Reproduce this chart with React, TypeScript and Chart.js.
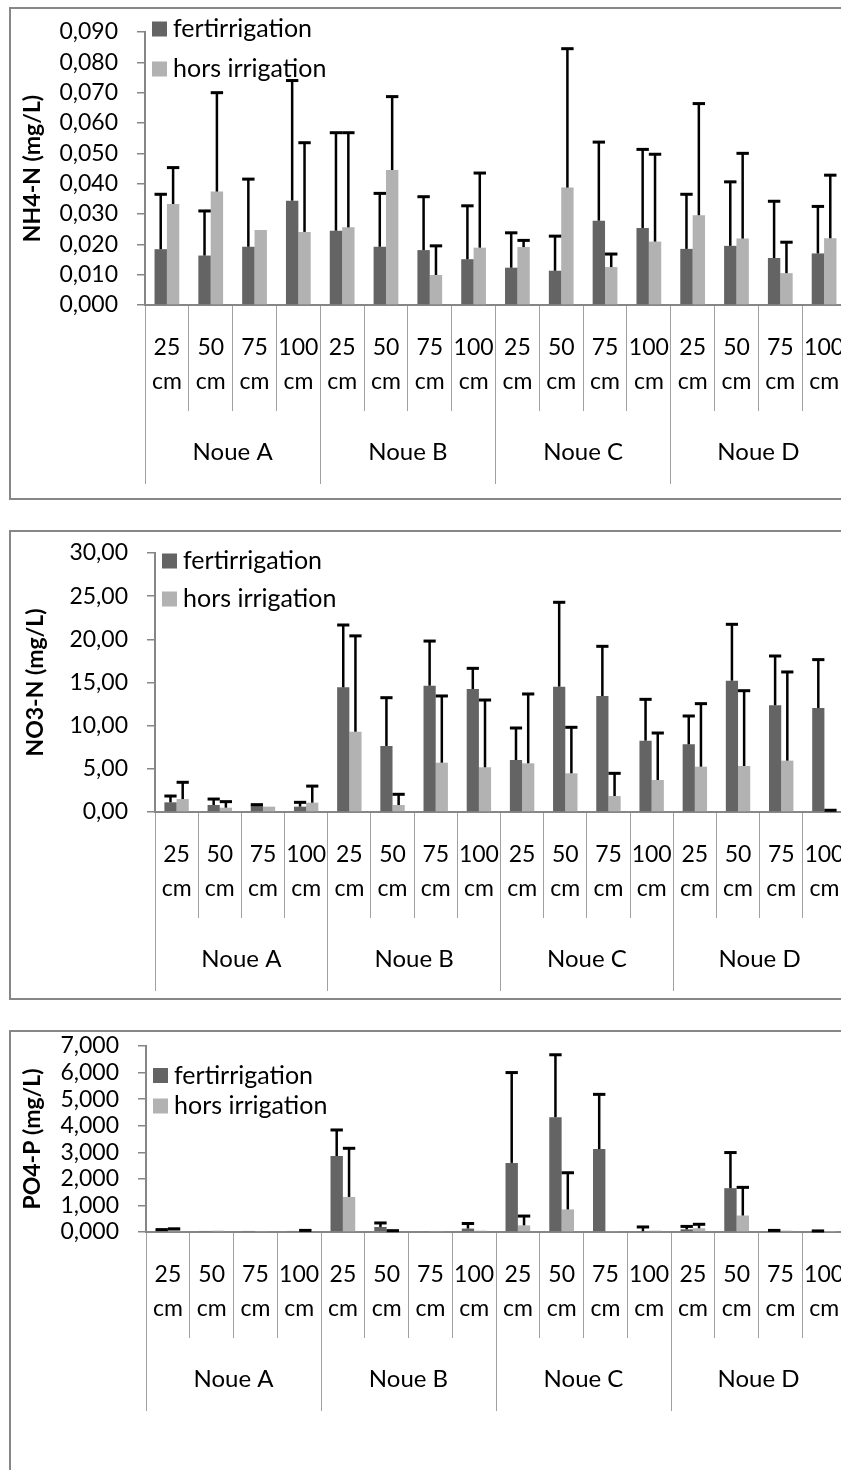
import React, { useEffect, useRef } from 'react';
import { Chart, registerables } from 'chart.js';

Chart.register(...registerables);
Chart.defaults.font.family = "Lato, 'Open Sans', sans-serif";
Chart.defaults.color = '#000';

// ---------- data ----------
const groups = ['Noue A', 'Noue B', 'Noue C', 'Noue D'];
const depths = ['25', '50', '75', '100'];
const categoryLabels = groups.flatMap(() => depths.map((d) => [d, 'cm']));
const seriesNames = ['fertirrigation', 'hors irrigation'];
const seriesColors = ['#646464', '#b2b2b2'];

const nh4Fert = [0.0184, 0.0163, 0.0192, 0.0344, 0.0245, 0.0192, 0.0181, 0.0151, 0.0123, 0.0113, 0.0278, 0.0254, 0.0185, 0.0195, 0.0155, 0.017];
const nh4FertSd = [0.0181, 0.0147, 0.0223, 0.0396, 0.0323, 0.0176, 0.0176, 0.0176, 0.0115, 0.0114, 0.0259, 0.0259, 0.018, 0.0211, 0.0187, 0.0155];
const nh4Hors = [0.0333, 0.0374, 0.0247, 0.0241, 0.0256, 0.0445, 0.0099, 0.0189, 0.0191, 0.0387, 0.0125, 0.0209, 0.0296, 0.0219, 0.0105, 0.022];
const nh4HorsSd = [0.012, 0.0326, 0, 0.0294, 0.0312, 0.0242, 0.0096, 0.0246, 0.0022, 0.0458, 0.0043, 0.0288, 0.0368, 0.0281, 0.0102, 0.0208];

const no3Fert = [1.12, 0.81, 0.77, 0.62, 14.44, 7.65, 14.63, 14.25, 6.02, 14.52, 13.44, 8.26, 7.84, 15.21, 12.36, 12.05];
const no3FertSd = [0.73, 0.69, 0.08, 0.5, 7.22, 5.59, 5.17, 2.39, 3.71, 9.77, 5.75, 4.79, 3.28, 6.53, 5.71, 5.6];
const no3Hors = [1.5, 0.5, 0.62, 1.08, 9.3, 0.81, 5.71, 5.18, 5.64, 4.48, 1.85, 3.71, 5.25, 5.33, 5.95, 0.1];
const no3HorsSd = [1.94, 0.7, 0, 1.92, 11.1, 1.24, 7.73, 7.79, 8.03, 5.33, 2.63, 5.44, 7.3, 8.72, 10.27, 0.1];

const po4Fert = [0.06, 0.04, 0.04, 0.04, 2.86, 0.19, 0.03, 0.13, 2.6, 4.32, 3.12, 0.03, 0.1, 1.65, 0.05, 0.03];
const po4FertSd = [0.03, 0, 0, 0, 0.98, 0.15, 0, 0.19, 3.4, 2.35, 2.06, 0.16, 0.11, 1.34, 0.01, 0.01];
const po4Hors = [0.1, 0.05, 0.02, 0.05, 1.32, 0.04, 0.04, 0.05, 0.25, 0.85, 0.02, 0.05, 0.14, 0.62, 0.05, 0.01];
const po4HorsSd = [0.02, 0, 0, 0.01, 1.83, 0.01, 0, 0, 0.35, 1.38, 0, 0, 0.15, 1.06, 0, 0];

const yTitles = ['NH4-N (mg/L)', 'NO3-N (mg/L)', 'PO4-P (mg/L)'];

// ---------- plugins ----------
const errorBarPlugin = {
  id: 'errorBars',
  afterDatasetsDraw(chart: any) {
    const ctx = chart.ctx;
    const yScale = chart.scales.y;
    chart.data.datasets.forEach((ds: any, i: number) => {
      const meta = chart.getDatasetMeta(i);
      const errs: number[] = ds.errors || [];
      meta.data.forEach((bar: any, j: number) => {
        const e = errs[j];
        if (!e) return;
        const v = ds.data[j];
        const yTop = yScale.getPixelForValue(v + e);
        const { x, y, width } = bar.getProps(['x', 'y', 'width'], true);
        ctx.save();
        ctx.fillStyle = '#000';
        ctx.fillRect(x - 1.25, yTop, 2.5, y - yTop);
        ctx.fillRect(x - width / 2, yTop - 1.5, width, 3);
        ctx.restore();
      });
    });
  },
};

const boxLegendPlugin = {
  id: 'boxLegend',
  afterDraw(chart: any, _args: any, opts: any) {
    const ctx = chart.ctx;
    ctx.save();
    chart.data.datasets.forEach((ds: any, i: number) => {
      const cy = opts.y[i];
      ctx.fillStyle = ds.backgroundColor;
      ctx.fillRect(opts.x, cy - 7.5, 15, 15);
      ctx.fillStyle = '#000';
      ctx.font = "25px Lato, 'Open Sans', sans-serif";
      ctx.textBaseline = 'middle';
      ctx.textAlign = 'left';
      ctx.fillText(ds.label, opts.x + 21, cy);
    });
    ctx.restore();
  },
};

// ---------- panels ----------
type PanelCfg = {
  boxTop: number; boxHeight: number; canvasTop: number; canvasHeight: number;
  yWidth: number; padTop: number; padBottom: number; legendX: number; legendY: number[];
  yMax: number; step: number; decimals: number; title: string; titlePad: number;
  values: number[][]; errors: number[][];
};

const panels: PanelCfg[] = [
  {
    boxTop: 7, boxHeight: 493, canvasTop: 8, canvasHeight: 490, yWidth: 145, padTop: 24, padBottom: 14,
    legendX: 152, legendY: [21, 61], yMax: 0.09, step: 0.01, decimals: 3, title: yTitles[0], titlePad: 19,
    values: [nh4Fert, nh4Hors], errors: [nh4FertSd, nh4HorsSd],
  },
  {
    boxTop: 530, boxHeight: 470, canvasTop: 531, canvasHeight: 467, yWidth: 155, padTop: 22, padBottom: 7,
    legendX: 162, legendY: [30, 68], yMax: 30, step: 5, decimals: 2, title: yTitles[1], titlePad: 22,
    values: [no3Fert, no3Hors], errors: [no3FertSd, no3HorsSd],
  },
  {
    boxTop: 1030, boxHeight: 500, canvasTop: 1031, canvasHeight: 439, yWidth: 146, padTop: 15, padBottom: 59,
    legendX: 153, legendY: [44.5, 75], yMax: 7, step: 1, decimals: 3, title: yTitles[2], titlePad: 19,
    values: [po4Fert, po4Hors], errors: [po4FertSd, po4HorsSd],
  },
];

const CANVAS_W = 880;

function Panel({ cfg }: { cfg: PanelCfg }) {
  const ref = useRef<HTMLCanvasElement>(null);
  useEffect(() => {
    const chart = new Chart(ref.current as HTMLCanvasElement, {
      type: 'bar',
      data: {
        labels: categoryLabels,
        datasets: seriesNames.map((name, i) => ({
          label: name,
          data: cfg.values[i],
          errors: cfg.errors[i],
          backgroundColor: seriesColors[i],
          borderWidth: 0,
          barPercentage: 1,
          categoryPercentage: 0.565,
        })) as any,
      },
      options: {
        responsive: false,
        maintainAspectRatio: false,
        animation: false,
        devicePixelRatio: 1,
        layout: { padding: { top: cfg.padTop, bottom: cfg.padBottom, left: 0, right: CANVAS_W - 846 } },
        plugins: {
          legend: { display: false },
          tooltip: { enabled: false },
          boxLegend: { x: cfg.legendX, y: cfg.legendY },
        } as any,
        scales: {
          x: {
            type: 'category',
            position: 'bottom',
            weight: 0,
            offset: true,
            z: 1,
            grid: { offset: true, drawOnChartArea: false, drawTicks: true, tickLength: 106, color: '#a0a0a0', lineWidth: 1 },
            border: { display: true, color: '#868686', width: 2 },
            ticks: {
              autoSkip: false, maxRotation: 0, minRotation: 0, padding: -80.5, color: '#000',
              font: { size: 23, lineHeight: 1.48 },
            },
            afterFit: (s: any) => { s.height = 106; s.paddingLeft = 0; s.paddingRight = 0; },
          },
          x2: {
            type: 'category',
            position: 'bottom',
            weight: 1,
            labels: groups,
            offset: true,
            grid: { offset: true, drawOnChartArea: false, drawTicks: true, tickLength: 73, color: '#a0a0a0', lineWidth: 1 },
            border: { display: false },
            ticks: {
              autoSkip: false, maxRotation: 0, minRotation: 0, padding: -46, color: '#000',
              font: { size: 24, lineHeight: 1.2 },
            },
            afterFit: (s: any) => { s.height = 73; s.paddingLeft = 0; s.paddingRight = 0; },
          },
          y: {
            type: 'linear',
            position: 'left',
            min: 0,
            max: cfg.yMax,
            grid: { drawOnChartArea: false, drawTicks: true, tickLength: 8, color: '#868686', lineWidth: 1.5 },
            border: { display: true, color: '#868686', width: 2 },
            ticks: {
              stepSize: cfg.step, autoSkip: false, padding: 19, color: '#000',
              font: { size: 23 },
              callback: (v: any) => Number(v).toFixed(cfg.decimals).replace('.', ','),
            },
            title: {
              display: true, text: cfg.title, color: '#000',
              font: { size: 23, weight: 'bold', lineHeight: 1.2 },
              padding: { top: cfg.titlePad, bottom: 0 },
            },
            afterFit: (s: any) => { s.width = cfg.yWidth; s.paddingTop = 0; s.paddingBottom = 0; },
          },
        } as any,
      },
      plugins: [errorBarPlugin, boxLegendPlugin],
    });
    return () => chart.destroy();
  }, []);
  return (
    <>
      <div
        style={{
          position: 'absolute', left: 9, top: cfg.boxTop, width: 900, height: cfg.boxHeight,
          border: '2px solid #878787', boxSizing: 'border-box',
        }}
      />
      <canvas
        ref={ref}
        width={CANVAS_W}
        height={cfg.canvasHeight}
        style={{ position: 'absolute', left: 0, top: cfg.canvasTop, width: CANVAS_W, height: cfg.canvasHeight }}
      />
    </>
  );
}

export default function App() {
  return (
    <div
      style={{
        position: 'absolute', left: 0, top: 0, width: 841, height: 1470,
        overflow: 'hidden', background: '#fff',
      }}
    >
      {panels.map((p, i) => (
        <Panel key={i} cfg={p} />
      ))}
    </div>
  );
}
